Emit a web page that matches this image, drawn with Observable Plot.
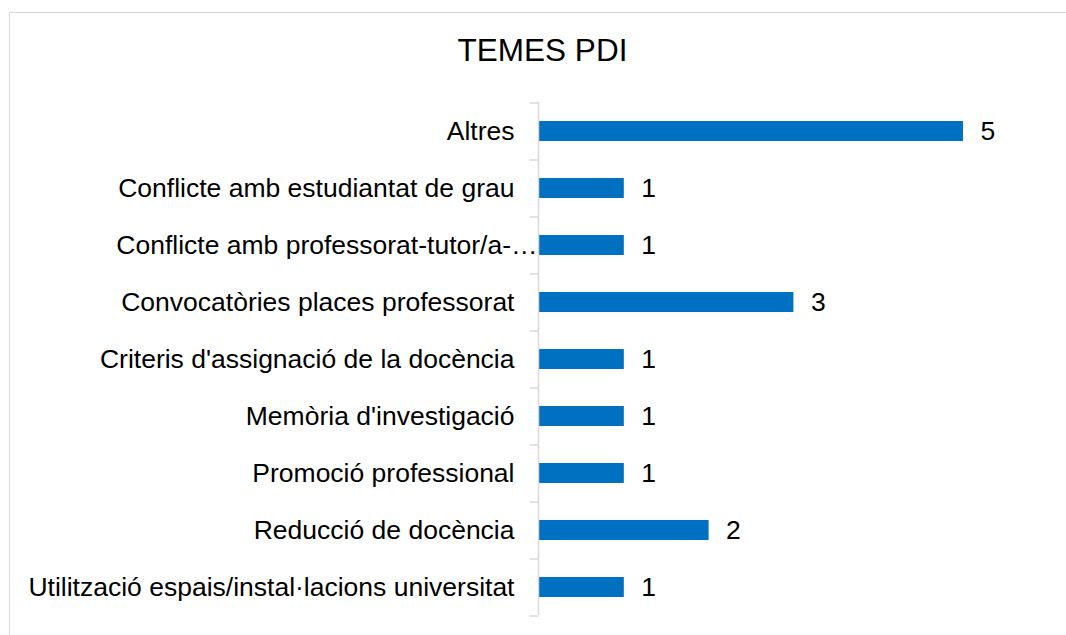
<!DOCTYPE html>
<html>
<head>
<meta charset="utf-8">
<script src="https://cdn.jsdelivr.net/npm/d3@7"></script>
<script src="https://cdn.jsdelivr.net/npm/@observablehq/plot@0.6"></script>
<style>
  html, body { margin: 0; padding: 0; background: #fff; overflow: hidden; }
  #wrap { position: relative; width: 1066px; height: 635px; font-family: "Liberation Sans", Arial, sans-serif; }
  #frame { position: absolute; left: 9px; top: 12px; width: 1070px; height: 640px; border: 1px solid #d9d9d9; box-sizing: border-box; }
  #title { position: absolute; left: 9px; top: 31px; width: 1067px; text-align: center; font-size: 31.5px; color: #000; line-height: 38px; }
  #chart { position: absolute; left: 0; top: 0; }
</style>
</head>
<body>
<div id="wrap">
  <div id="frame"></div>
  <div id="title">TEMES PDI</div>
  <div id="chart"></div>
</div>
<script>
const categories = [
  "Altres",
  "Conflicte amb estudiantat de grau",
  "Conflicte amb professorat-tutor/a-…",
  "Convocatòries places professorat",
  "Criteris d'assignació de la docència",
  "Memòria d'investigació",
  "Promoció professional",
  "Reducció de docència",
  "Utilització espais/instal·lacions universitat"
];
const values = [5, 1, 1, 3, 1, 1, 1, 2, 1];
const truncatedLabel = "Conflicte amb professorat-tutor/a-…";

const data = categories.map((c, i) => ({category: c, value: values[i]}));
const normalLabels = categories.filter(c => c !== truncatedLabel);

const chart = Plot.plot({
  width: 1066,
  height: 635,
  marginLeft: 539,
  marginRight: 103,
  marginTop: 102,
  marginBottom: 20,
  style: {fontFamily: "Liberation Sans, Arial, sans-serif", fontSize: "26.5px", color: "#000", background: "transparent"},
  x: {domain: [0, 5], axis: null},
  y: {domain: categories, paddingInner: 0.65, paddingOuter: 0.325, align: 0.5, label: null, axis: null},
  marks: [
    Plot.barX(data, {x: "value", y: "category", fill: "#0070C0"}),
    Plot.text(data, {x: "value", y: "category", text: d => String(d.value), textAnchor: "start", dx: 17, fill: "#000", fontSize: 26.5}),
    Plot.ruleX([0], {stroke: "#d9d9d9", strokeWidth: 1.5, dx: -1}),
    Plot.axisY({ticks: categories, tickSize: 8, text: null, stroke: "#d9d9d9", strokeWidth: 1.5, dy: -28.5, dx: -1, label: null}),
    Plot.axisY({ticks: [categories[categories.length - 1]], tickSize: 8, text: null, stroke: "#d9d9d9", strokeWidth: 1.5, dy: 28.5, dx: -1, label: null}),
    Plot.axisY({ticks: normalLabels, tickSize: 0, tickPadding: 25, fontSize: 26.5, label: null, textOverflow: null, lineWidth: Infinity}),
    Plot.axisY({ticks: [truncatedLabel], tickSize: 0, tickPadding: 2, fontSize: 26.5, label: null, textOverflow: null, lineWidth: Infinity})
  ]
});
document.getElementById("chart").appendChild(chart);
</script>
</body>
</html>
